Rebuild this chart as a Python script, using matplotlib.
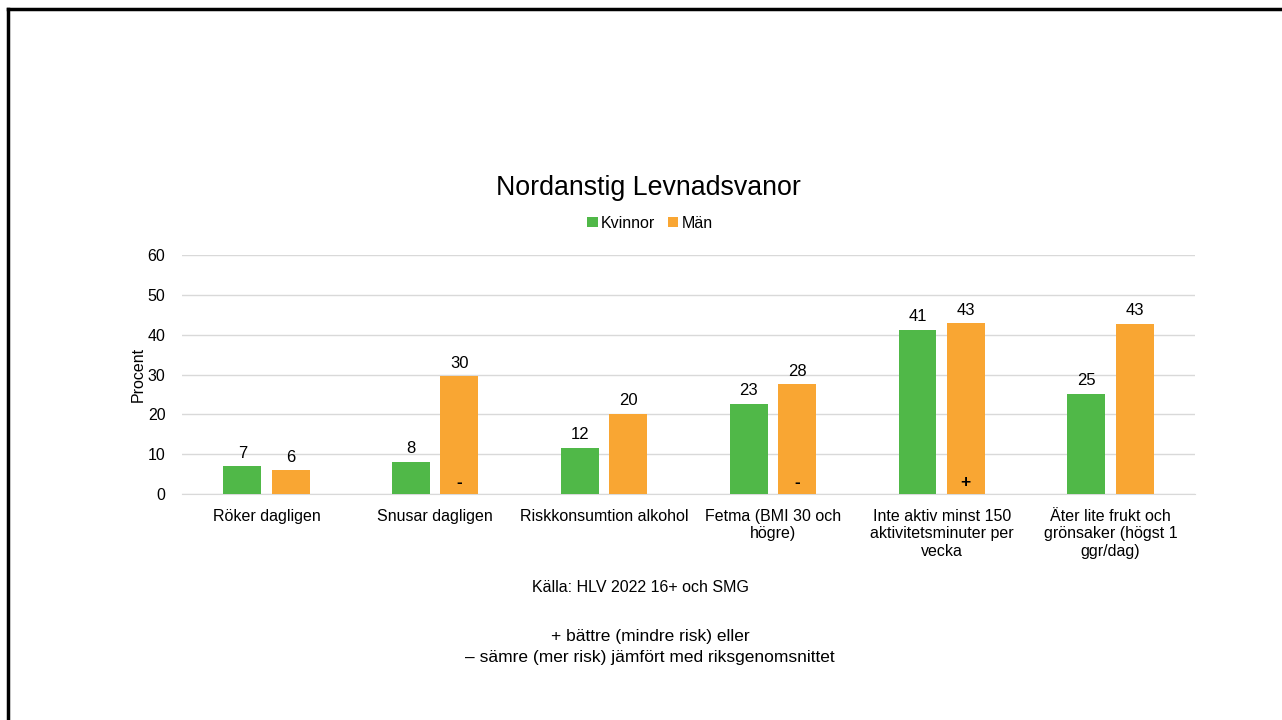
import numpy as np
import matplotlib
matplotlib.use('Agg')
import matplotlib.pyplot as plt
from matplotlib.lines import Line2D

plt.rcParams['font.family'] = ['Liberation Sans', 'DejaVu Sans']

# Data
categories = ['Röker dagligen', 'Snusar dagligen', 'Riskkonsumtion alkohol',
              'Fetma (BMI 30 och\nhögre)', 'Inte aktiv minst 150\naktivitetsminuter per\nvecka',
              'Äter lite frukt och\ngrönsaker (högst 1\nggr/dag)']
kvinnor = [7.0, 8.1, 11.6, 22.6, 41.3, 25.1]
man = [5.9, 29.6, 20.1, 27.6, 42.9, 42.8]
man_marks = ['', '-', '', '-', '+', '']
yticks = [0, 10, 20, 30, 40, 50, 60]

GREEN = '#50B848'
ORANGE = '#F9A633'

fig = plt.figure(figsize=(12.82, 7.2), dpi=100)
ax = fig.add_axes([0.142, 0.3139, 0.790, 0.3319])

x = np.arange(len(categories))
w = 0.225
off = 0.143
b1 = ax.bar(x - off, kvinnor, w, color=GREEN, label='Kvinnor', zorder=3)
b2 = ax.bar(x + off, man, w, color=ORANGE, label='Män', zorder=3)

for bars, vals in ((b1, kvinnor), (b2, man)):
    for rect, v in zip(bars, vals):
        ax.annotate(f'{v:.0f}', (rect.get_x() + rect.get_width() / 2, v), xytext=(0, 4),
                    textcoords='offset points', ha='center', va='bottom', fontsize=12)
for rect, m in zip(b2, man_marks):
    if m:
        ax.text(rect.get_x() + rect.get_width() / 2, 2.9, m, ha='center', va='center',
                fontsize=12.5, fontweight='bold', zorder=4)

ax.set_xlim(-0.5, len(categories) - 0.5)
ax.set_ylim(0, 60)
ax.set_yticks(yticks)
ax.set_xticks(x)
ax.set_xticklabels(categories, fontsize=11.5, linespacing=1.23, va='top')
ax.tick_params(axis='both', length=0, labelsize=11.5)
ax.tick_params(axis='x', pad=10.5)
ax.tick_params(axis='y', pad=12)
ax.grid(axis='y', color='#D9D9D9', linewidth=1, zorder=0)
for s in ['top', 'right', 'left']:
    ax.spines[s].set_visible(False)
ax.spines['bottom'].set_color('#D9D9D9')
ax.set_ylabel('Procent', fontsize=11.5, labelpad=1.5)

fig.text(0.506, 0.739, 'Nordanstig Levnadsvanor', ha='center', va='center', fontsize=19.3)
fig.legend(handles=[b1, b2], loc='center', bbox_to_anchor=(0.507, 0.690), ncol=2,
           frameon=False, fontsize=11.5, handlelength=0.65, handleheight=0.65,
           handletextpad=0.2, columnspacing=0.8)

fig.text(0.5, 0.184, 'Källa: HLV 2022 16+ och SMG', ha='center', va='center', fontsize=11.5)
fig.text(0.507, 0.102, '+ bättre (mindre risk) eller\n– sämre (mer risk) jämfört med riksgenomsnittet',
         ha='center', va='center', fontsize=12.5, linespacing=1.5)

# slide frame
fig.add_artist(Line2D([0.0062, 1], [0.9875, 0.9875], color='black', linewidth=2.5,
                      transform=fig.transFigure, solid_capstyle='projecting'))
fig.add_artist(Line2D([0.0062, 0.0062], [0, 0.9875], color='black', linewidth=2.5,
                      transform=fig.transFigure, solid_capstyle='projecting'))

fig.savefig('out.png', dpi=100, facecolor='white')
